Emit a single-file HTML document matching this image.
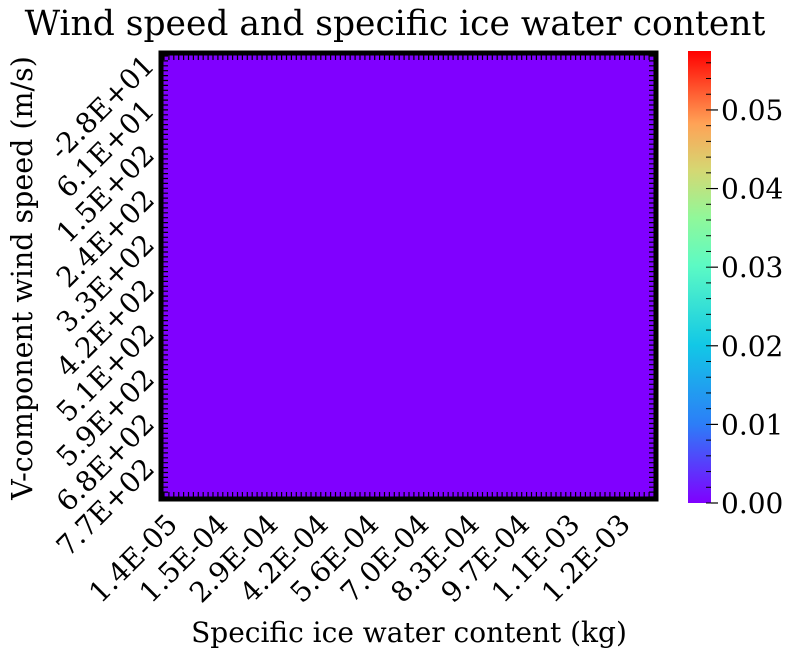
<!DOCTYPE html>
<html><head><meta charset="utf-8"><style>
body{margin:0;background:#fff;}
svg{display:block;font-family:"DejaVu Serif","Liberation Serif",serif;}
</style></head><body>
<svg width="792" height="659">
<defs>
<linearGradient id="rb" x1="0" y1="1" x2="0" y2="0">
<stop offset="0" stop-color="#8000ff"/><stop offset="0.175" stop-color="#2c7ef7"/>
<stop offset="0.35" stop-color="#12c8e6"/><stop offset="0.525" stop-color="#5cfac4"/>
<stop offset="0.63" stop-color="#90f89a"/><stop offset="0.735" stop-color="#d4d873"/>
<stop offset="0.84" stop-color="#ffa256"/><stop offset="1" stop-color="#ff0000"/>
</linearGradient>
</defs>
<text x="395" y="35" font-size="34.5" text-anchor="middle">Wind speed and specific ice water content</text>
<g id="heat"></g>
<g id="ticks"></g>
<rect x="161" y="53" width="495" height="446" fill="none" stroke="#000" stroke-width="5"/>
<g id="xl"></g>
<g id="yl"></g>
<text x="409" y="642" font-size="28" text-anchor="middle">Specific ice water content (kg)</text>
<text transform="translate(32,278) rotate(-90)" font-size="28.5" text-anchor="middle">V-component wind speed (m/s)</text>
<rect x="688" y="51" width="23" height="452" fill="url(#rb)"/>
<g id="cb"></g>
</svg>
<script>
const xLabels=["1.4E-05","1.5E-04","2.9E-04","4.2E-04","5.6E-04","7.0E-04","8.3E-04","9.7E-04","1.1E-03","1.2E-03"];
const yLabels=["-2.8E+01","6.1E+01","1.5E+02","2.4E+02","3.3E+02","4.2E+02","5.1E+02","5.9E+02","6.8E+02","7.7E+02"];
const values=[
[0,0,0,0,0,0,0,0,0,0],[0,0,0,0,0,0,0,0,0,0],[0,0,0,0,0,0,0,0,0,0],[0,0,0,0,0,0,0,0,0,0],[0,0,0,0,0,0,0,0,0,0],
[0,0,0,0,0,0,0,0,0,0],[0,0,0,0,0,0,0,0,0,0],[0,0,0,0,0,0,0,0,0,0],[0,0,0,0,0,0,0,0,0,0],[0,0,0,0,0,0,0,0,0,0]];
const cbTicks=[0,0.01,0.02,0.03,0.04,0.05];
const cbMax=0.0575;
const NS="http://www.w3.org/2000/svg";
function mk(t,a,p){const e=document.createElementNS(NS,t);for(const k in a)e.setAttribute(k,a[k]);p.appendChild(e);return e;}
const px0=161,px1=656,py0=53,py1=499;
const cbY=v=>503-v/cbMax*452;
function col(v){const t=Math.min(1,Math.max(0,v/cbMax));
const g=Math.round(255*Math.sin(Math.PI*t)), b=Math.round(255*Math.cos(Math.PI*t/2));
return `rgb(${Math.min(255,Math.round(128+255*t))},${g},${b})`;}
const heat=document.getElementById('heat');
const cw=(px1-px0)/xLabels.length, ch=(py1-py0)/yLabels.length;
values.forEach((row,i)=>row.forEach((v,j)=>{
 const r=mk('rect',{x:px0+j*cw,y:py0+i*ch,width:cw+0.5,height:ch+0.5,fill:col(v)},heat);
 
 
}));
const tk=document.getElementById('ticks');
let d='';
for(let x=px0+3;x<px1;x+=4.9){d+=`M${x} ${py0}v7M${x} ${py1}v-7`;}
for(let y=py0+3;y<py1;y+=4.9){d+=`M${px0} ${y}h7M${px1} ${y}h-7`;}
mk('path',{d:d,stroke:'#000','stroke-width':1.2,fill:'none'},tk);
const xl=document.getElementById('xl');
xLabels.forEach((l,i)=>{const x=px0+18+i*50.3;
 const t=mk('text',{transform:`translate(${x},${py1+27}) rotate(-45)`,'font-size':28,'text-anchor':'end'},xl);t.textContent=l;
 
 });
const yl=document.getElementById('yl');
yLabels.forEach((l,i)=>{const y=py0+14+i*44.8;
 const t=mk('text',{transform:`translate(156,${y}) rotate(-45)`,'font-size':28,'text-anchor':'end'},yl);t.textContent=l;
 
 });
const cb=document.getElementById('cb');
for(let v=0;v<=cbMax;v+=0.002){mk('line',{x1:706,x2:711,y1:cbY(v),y2:cbY(v),stroke:'#000','stroke-width':1},cb);}
cbTicks.forEach(v=>{const y=cbY(v);
 mk('line',{x1:711,x2:718,y1:y,y2:y,stroke:'#000','stroke-width':1.2},cb);
 const t=mk('text',{x:721,y:y+10,'font-size':28},cb);t.textContent=v.toFixed(2);
 
 });
</script>
</body></html>
